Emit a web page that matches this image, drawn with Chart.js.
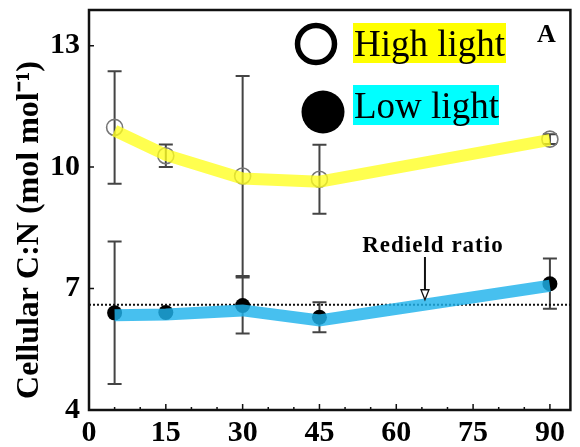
<!DOCTYPE html>
<html>
<head>
<meta charset="utf-8">
<script src="https://cdn.jsdelivr.net/npm/chart.js@4"></script>
<style>
  body { margin: 0; background: #fff; }
</style>
</head>
<body>
<canvas id="cn-chart" width="580" height="447"></canvas>
<script>
const temps = [5, 15, 30, 45, 90];
const highLight = [10.98, 10.28, 9.78, 9.7, 10.69];
const highErr = [1.39, 0.28, 2.47, 0.85, 0.12];
const highFit = [10.9, 10.3, 9.72, 9.64, 10.67];
const lowLight = [6.4, 6.41, 6.58, 6.29, 7.12];
const lowErr = [1.76, 0, 0.69, 0.37, 0.62];
const lowFit = [6.34, 6.36, 6.46, 6.21, 7.07];
const redfield = 6.6;
const xTicks = [0, 15, 30, 45, 60, 75, 90];
const yTicks = [4, 7, 10, 13];

const serif = 'Liberation Serif, Times New Roman, serif';
const pts = (ys) => temps.map((x, i) => ({ x: x, y: ys[i] }));

const framePlugin = {
    id: 'frame',
    beforeDatasetsDraw(chart) {
        const ctx = chart.ctx;
        const xs = chart.scales.x;
        const ys = chart.scales.y;
        ctx.save();
        ctx.strokeStyle = '#444';
        ctx.lineWidth = 2;
        [[highLight, highErr], [lowLight, lowErr]].forEach(([vals, errs]) => {
            vals.forEach((v, i) => {
                if (!errs[i]) return;
                const px = xs.getPixelForValue(temps[i]);
                const top = ys.getPixelForValue(v + errs[i]);
                const bot = ys.getPixelForValue(v - errs[i]);
                ctx.beginPath();
                ctx.moveTo(px, top); ctx.lineTo(px, bot);
                ctx.moveTo(px - 7, top); ctx.lineTo(px + 7, top);
                ctx.moveTo(px - 7, bot); ctx.lineTo(px + 7, bot);
                ctx.stroke();
            });
        });
        ctx.restore();
    },
    afterDraw(chart) {
        const ctx = chart.ctx;
        const a = chart.chartArea;
        const xs = chart.scales.x;
        const ys = chart.scales.y;
        ctx.save();
        // box
        ctx.strokeStyle = '#111';
        ctx.lineWidth = 2.5;
        ctx.strokeRect(a.left, a.top, a.right - a.left, a.bottom - a.top);
        // inner ticks
        ctx.lineWidth = 1.5;
        ctx.beginPath();
        for (let v = 5; v <= 90; v += 5) {
            const px = xs.getPixelForValue(v);
            const len = v % 15 === 0 ? 6 : 3;
            ctx.moveTo(px, a.bottom); ctx.lineTo(px, a.bottom - len);
        }
        yTicks.slice(1).forEach(v => {
            const py = ys.getPixelForValue(v);
            ctx.moveTo(a.left, py); ctx.lineTo(a.left + 5, py);
        });
        ctx.stroke();

        // y title
        ctx.fillStyle = '#000';
        ctx.font = 'bold 32px ' + serif;
        ctx.textAlign = 'center';
        ctx.textBaseline = 'middle';
        ctx.save();
        ctx.translate(30, 230);
        ctx.rotate(-Math.PI / 2);
        ctx.fillText('Cellular C:N (mol mol\u207B\u00B9)', 0, 0);
        ctx.restore();

        // panel letter
        ctx.font = 'bold 26px ' + serif;
        ctx.textAlign = 'left';
        ctx.textBaseline = 'alphabetic';
        ctx.fillText('A', 537, 42);

        // Redfield annotation
        const ax = xs.getPixelForValue(65.6);
        ctx.font = 'bold 23px ' + serif;
        ctx.textAlign = 'center';
        ctx.letterSpacing = '1px';
        ctx.fillText('Redield ratio', ax + 8, 252);
        ctx.letterSpacing = '0px';
        const tip = ys.getPixelForValue(redfield) - 5;
        ctx.lineWidth = 2;
        ctx.beginPath();
        ctx.moveTo(ax, 257); ctx.lineTo(ax, tip - 10);
        ctx.stroke();
        ctx.lineWidth = 1.3;
        ctx.beginPath();
        ctx.moveTo(ax - 4, tip - 10); ctx.lineTo(ax + 4, tip - 10); ctx.lineTo(ax, tip); ctx.closePath();
        ctx.fillStyle = '#fff';
        ctx.fill();
        ctx.stroke();

        // legend
        ctx.fillStyle = '#ffff00';
        ctx.fillRect(353, 23, 153, 40);
        ctx.fillStyle = '#00ffff';
        ctx.fillRect(353, 85, 146, 40);
        ctx.strokeStyle = '#000';
        ctx.lineWidth = 5.5;
        ctx.beginPath();
        ctx.arc(316, 44, 18.5, 0, Math.PI * 2);
        ctx.stroke();
        ctx.fillStyle = '#000';
        ctx.beginPath();
        ctx.arc(323, 112, 21.5, 0, Math.PI * 2);
        ctx.fill();
        ctx.font = '37px ' + serif;
        ctx.textAlign = 'left';
        ctx.fillText('High light', 354, 56);
        ctx.fillText('Low light', 354, 118);
        ctx.restore();
    }
};

new Chart(document.getElementById('cn-chart'), {
    type: 'scatter',
    data: {
        datasets: [
            {
                type: 'line',
                data: pts(lowFit),
                borderColor: 'rgba(30, 178, 235, 0.82)',
                borderWidth: 12,
                pointRadius: 0,
                tension: 0,
                fill: false
            },
            {
                type: 'line',
                data: pts(highFit),
                borderColor: 'rgba(255, 255, 30, 0.78)',
                borderWidth: 12,
                pointRadius: 0,
                tension: 0,
                fill: false
            },
            {
                label: 'High light',
                data: pts(highLight),
                pointRadius: 8,
                pointBorderWidth: 1.6,
                pointBorderColor: '#777',
                pointBackgroundColor: 'rgba(255,255,255,0)'
            },
            {
                label: 'Low light',
                data: pts(lowLight),
                pointRadius: 7.5,
                pointBorderWidth: 0,
                pointBackgroundColor: '#000'
            },
            {
                type: 'line',
                data: [{ x: 0, y: redfield }, { x: 94, y: redfield }],
                borderColor: '#111',
                borderWidth: 2,
                borderDash: [2, 2],
                pointRadius: 0,
                fill: false
            }
        ]
    },
    options: {
        responsive: false,
        devicePixelRatio: 1,
        animation: false,
        layout: { padding: { top: 10, right: 9, left: 0, bottom: 0 } },
        plugins: { legend: { display: false }, tooltip: { enabled: false } },
        scales: {
            x: {
                type: 'linear',
                min: 0,
                max: 94,
                afterFit: scale => {
                    scale.height = 37;
                    scale.paddingLeft = 0;
                    scale.paddingRight = 0;
                },
                afterBuildTicks: scale => { scale.ticks = xTicks.map(v => ({ value: v })); },
                grid: { display: false, drawTicks: false },
                border: { display: false },
                ticks: {
                    color: '#000',
                    padding: 5,
                    maxRotation: 0,
                    autoSkip: false,
                    font: { family: serif, size: 30, weight: 'bold' }
                }
            },
            y: {
                type: 'linear',
                min: 4,
                max: 13.88,
                afterFit: scale => {
                    scale.width = 89;
                    scale.paddingTop = 0;
                    scale.paddingBottom = 0;
                },
                afterBuildTicks: scale => { scale.ticks = yTicks.map(v => ({ value: v })); },
                grid: { display: false, drawTicks: false },
                border: { display: false },
                ticks: {
                    color: '#000',
                    padding: 9,
                    autoSkip: false,
                    font: { family: serif, size: 30, weight: 'bold' }
                }
            }
        }
    },
    plugins: [framePlugin]
});
</script>
</body>
</html>
